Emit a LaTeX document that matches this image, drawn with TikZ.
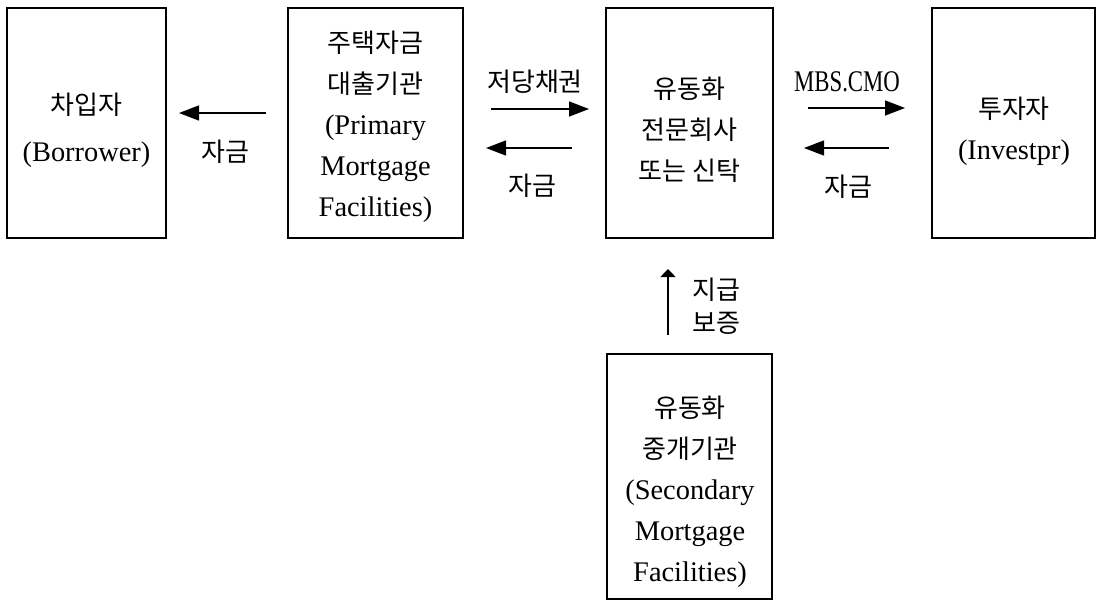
\documentclass[tikz,border=0pt]{standalone}
\usepackage{fontspec}
\usepackage{graphicx}
\setmainfont{Liberation Serif}
\newfontfamily\kr{Noto Sans CJK KR}
\usetikzlibrary{arrows.meta}
\tikzset{
  boxnode/.style={draw, line width=1pt, inner sep=0pt, minimum height=115pt},
  txt/.style={align=center, inner sep=0pt, font=\fontsize{14.2}{20.5}\selectfont},
  lbl/.style={inner sep=0pt, font=\kr\fontsize{13}{16.5}\selectfont, align=center},
  arr/.style={line width=0.7pt, -{Triangle[length=10pt,width=7.5pt]}},
  varr/.style={line width=0.7pt, -{Triangle[length=4pt,width=7.5pt]}}
}
\newcommand{\krt}[1]{{\kr\fontsize{13}{16}\selectfont #1}}
\begin{document}
\begin{tikzpicture}[x=0.5pt,y=-0.5pt]
\useasboundingbox (0,0) rectangle (1096,600);
% boxes
\node[boxnode, minimum width=79.5pt] (bor) at (86.5,123) {};
\node[boxnode, minimum width=87.5pt] (pri) at (375.5,123) {};
\node[boxnode, minimum width=83.5pt] (spv) at (689.5,123) {};
\node[boxnode, minimum width=81.5pt] (inv) at (1013.5,123) {};
\node[boxnode, minimum width=82.5pt, minimum height=122.5pt] (sec) at (689.5,476.5) {};
% box texts
\node[txt] (borT) at (86.5,130) {\krt{차입자}\\[3pt](Borrower)};
\node[txt] (priT) at (375.5,126.5) {\krt{주택자금}\\\krt{대출기관}\\(Primary\\Mortgage\\Facilities)};
\node[txt] (spvT) at (689.5,129.5) {\krt{유동화}\\\krt{전문회사}\\\krt{또는 신탁}};
\node[txt] (invT) at (1014,131.5) {\krt{투자자}\\(Investpr)};
\node[txt] (secT) at (690,492) {\krt{유동화}\\\krt{중개기관}\\(Secondary\\Mortgage\\Facilities)};
% arrow end points
\coordinate (a1s) at (266,113); \coordinate (a1e) at (179,113);
\coordinate (a2s) at (491,109); \coordinate (a2e) at (589,109);
\coordinate (a3s) at (572,148); \coordinate (a3e) at (486,148);
\coordinate (a4s) at (808,108); \coordinate (a4e) at (905,108);
\coordinate (a5s) at (889,148); \coordinate (a5e) at (804,148);
\coordinate (a6s) at (668,335); \coordinate (a6e) at (668,269);
\draw[arr] (a1s) -- (a1e);
\draw[arr] (a2s) -- (a2e);
\draw[arr] (a3s) -- (a3e);
\draw[arr] (a4s) -- (a4e);
\draw[arr] (a5s) -- (a5e);
\draw[varr] (a6s) -- (a6e);
% labels
\node[lbl] (l1) at (225,152) {자금};
\node[lbl] (l2) at (535,82) {저당채권};
\node[lbl] (l3) at (532,186) {자금};
\node[inner sep=0pt, font=\fontsize{15}{18}\selectfont] (l4) at (847,82) {\scalebox{0.76}[1]{MBS.CMO}};
\node[lbl] (l5) at (848,187) {자금};
\node[lbl] (l6) at (716,306) {지급\\보증};
\end{tikzpicture}
\end{document}
